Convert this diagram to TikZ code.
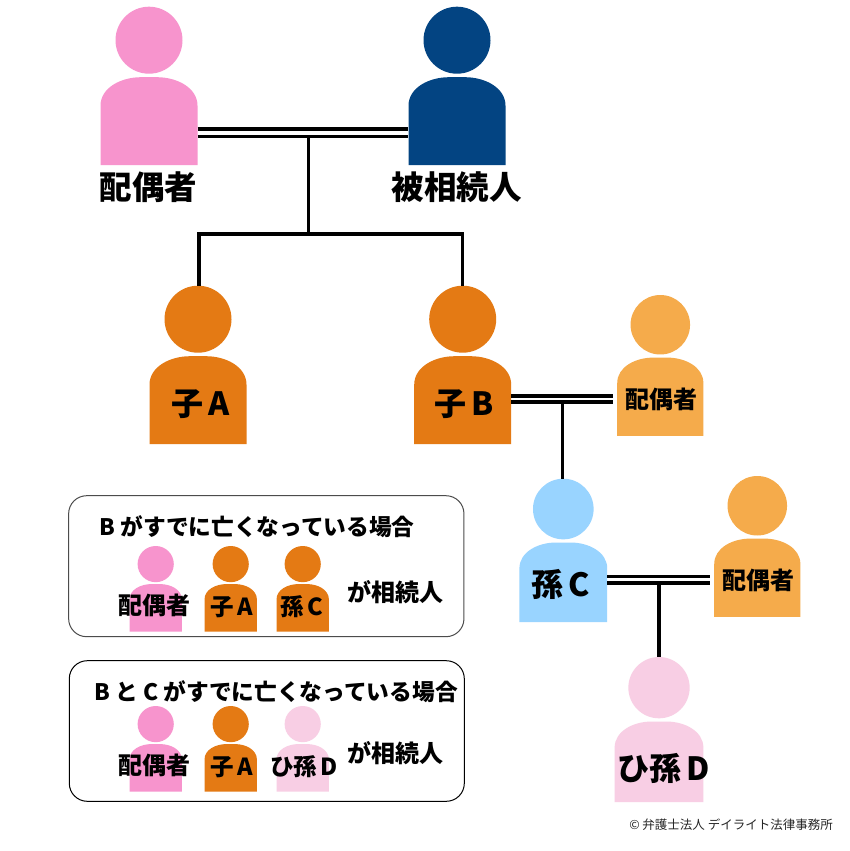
\documentclass[tikz,border=0pt]{standalone}
\usepackage{fontspec}
\setmainfont{Noto Sans CJK JP}
\definecolor{pinkc}{HTML}{F794CD}
\definecolor{navyc}{HTML}{034482}
\definecolor{orangec}{HTML}{E47A14}
\definecolor{lorangec}{HTML}{F5AB4B}
\definecolor{bluec}{HTML}{99D4FF}
\definecolor{palec}{HTML}{F8CEE4}
\newcommand{\person}[5]{%
  \pgfmathsetmacro{\pw}{97*#4}%
  \pgfmathsetmacro{\ph}{88*#4}%
  \pgfmathsetmacro{\pd}{67*#4}%
  \begin{scope}[shift={(#2,#3)},scale=#4]
    \node[circle,fill=#5,inner sep=0pt,minimum size=\pd pt] (#1-head) at (0,33.5) {};
    \fill[#5] (-48.5,158.5) -- (-48.5,99) .. controls (-48.5,81) and (-28,70.5) .. (-8,70.5)
      -- (8,70.5) .. controls (28,70.5) and (48.5,81) .. (48.5,99) -- (48.5,158.5) -- cycle;
    \node[inner sep=0pt,minimum width=\pw pt,minimum height=\ph pt] (#1) at (0,114.5) {};
  \end{scope}}
\newcommand{\kk}{\hspace{0.15em}}
\tikzset{
  t32/.style={font=\bfseries\fontsize{32.5}{32.5}\selectfont,inner sep=0pt},
  t30/.style={font=\bfseries\fontsize{32}{32}\selectfont,inner sep=0pt},
  t24/.style={font=\bfseries\fontsize{24}{24}\selectfont,inner sep=0pt},
  ts/.style={font=\bfseries\fontsize{23.5}{23.5}\selectfont,inner sep=0pt},
  t22/.style={font=\bfseries\fontsize{22.7}{22.7}\selectfont,inner sep=0pt},
  note/.style={draw=black,line width=1pt,rounded corners=18pt},
  line/.style={line width=3.1pt,black},
  mar/.style={line width=3.8pt,black}
}
\begin{document}
\begin{tikzpicture}[x=1pt,y=-1pt]
\useasboundingbox (0,0) rectangle (850,851);
\fill[white] (0,0) rectangle (850,851);
% boxes
\node[note,draw=black!70,minimum width=395.3pt,minimum height=141pt,inner sep=0pt] (boxa) at (266.3,566.2) {};
\node[note,minimum width=395pt,minimum height=140.6pt,inner sep=0pt] (boxb) at (266.8,731) {};
% people
\person{spouse}{149}{6.7}{1}{pinkc}
\person{dec}{457}{6.7}{1}{navyc}
\person{ka}{198}{285.7}{1}{orangec}
\person{kb}{462.7}{285.7}{1}{orangec}
\person{sb}{660.3}{295}{0.888}{lorangec}
\person{gc}{563.3}{478.7}{0.905}{bluec}
\person{sc}{757.3}{476}{0.888}{lorangec}
\person{ggd}{659}{657}{0.915}{palec}
\person{a1}{155.7}{546}{0.54}{pinkc}
\person{a2}{230.7}{546}{0.54}{orangec}
\person{a3}{302.7}{546}{0.54}{orangec}
\person{b1}{155.7}{706}{0.54}{pinkc}
\person{b2}{230.7}{706}{0.54}{orangec}
\person{b3}{302.7}{706}{0.54}{palec}
% connectors
\coordinate (m1) at (308.3,136.5);
\coordinate (bus) at (308.3,234);
\coordinate (m2) at (562.3,402.2);
\coordinate (m3) at (659,582.8);
\coordinate (e2) at (612.7,398.9);
\coordinate (e3) at (710,579.5);
\draw[line] (m1) -- (bus);
\draw[line] (ka-head.north -| 199,0) |- (bus) -| (kb-head.north);
\draw[line] (m2) -- (m2 |- gc-head.north);
\draw[line] (m3) -- (m3 |- ggd-head.north);
\draw[mar] (spouse.east |- 0,129) -- (dec.west |- 0,129);
\draw[mar] (spouse.east |- 0,136.5) -- (dec.west |- 0,136.5);
\draw[mar] (kb.east |- 0,396) -- (e2 |- 0,396);
\draw[mar] (kb.east |- 0,402.2) -- (e2 |- 0,402.2);
\draw[mar] (gc.east |- 0,576.4) -- (e3 |- 0,576.4);
\draw[mar] (gc.east |- 0,582.8) -- (e3 |- 0,582.8);
% labels
\node[t32] (l1) at (148.5,187) {配偶者};
\node[t32] (l2) at (456.5,187) {被相続人};
\node[t30] (l3) at (200.5,404) {子\kk A};
\node[t30] (l4) at (464,404) {子\kk B};
\node[t24] (l5) at (661,399) {配偶者};
\node[t30] (l6) at (561,584) {孫\kk C};
\node[t24] (l7) at (758.8,580) {配偶者};
\node[t30] (l8) at (664,768) {ひ孫\kk D};
\node[t22] (l9) at (257,527) {B がすでに亡くなっている場合};
\node[t22] (l10) at (276,692) {B と C がすでに亡くなっている場合};
\node[t24] (l11) at (395,592) {が相続人};
\node[t24] (l12) at (395,753) {が相続人};
\node[t24] (l13) at (154,605.5) {配偶者};
\node[ts] (l14) at (232,607) {子\kk A};
\node[ts] (l15) at (302,607) {孫\kk C};
\node[t24] (l16) at (154,765.5) {配偶者};
\node[ts] (l17) at (232,767) {子\kk A};
\node[ts] (l18) at (304,767) {ひ孫\kk D};
\node[inner sep=0pt,text=black!85,font=\fontsize{12.5}{12.5}\selectfont] (foot) at (731,824.5) {© 弁護士法人 デイライト法律事務所};
\end{tikzpicture}
\end{document}
